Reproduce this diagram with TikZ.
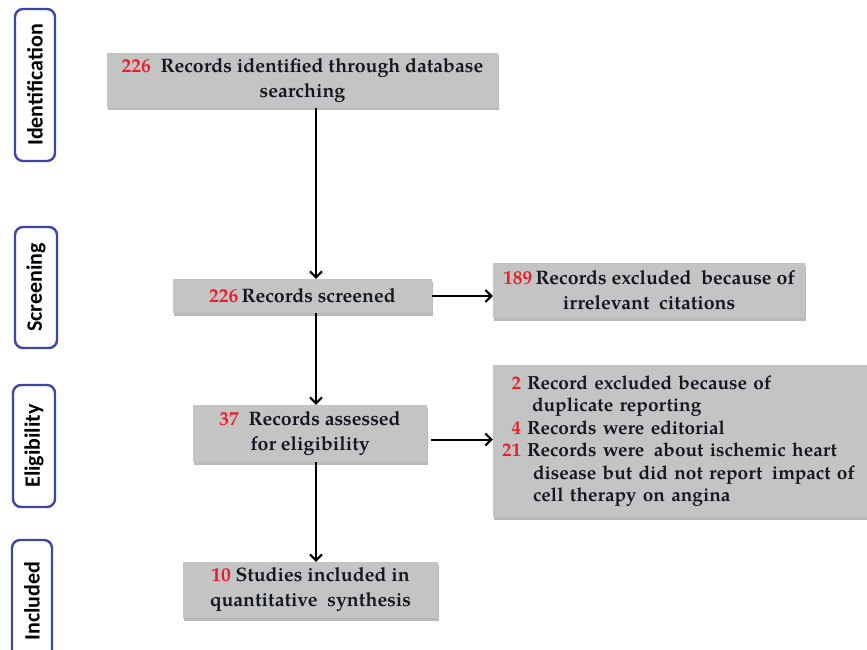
\documentclass[tikz,border=0pt]{standalone}
\usepackage{fontspec}
\setmainfont{texgyrepagella}[Extension=.otf, UprightFont=*-regular, BoldFont=*-bold, ItalicFont=*-italic, BoldItalicFont=*-bolditalic]
\newfontfamily\labfont{Carlito}[BoldFont={Carlito Bold}]
\usetikzlibrary{arrows.meta,shadows}
\definecolor{numred}{HTML}{E8202A}
\definecolor{boxgray}{HTML}{C4C4C4}
\definecolor{labblue}{HTML}{3C46A8}
\definecolor{txtcol}{HTML}{141820}
\newcommand{\R}[1]{\textcolor{numred}{#1}}
\begin{document}
\begin{tikzpicture}[x=1pt,y=-1pt,
  box/.style={fill=boxgray, drop shadow={shadow xshift=1pt,shadow yshift=-2.5pt,fill=black!55}, inner sep=0pt, align=center, font=\bfseries\fontsize{19.5}{25}\selectfont, text=txtcol},
  stage/.style={draw=labblue, line width=2.4pt, rounded corners=8pt, fill=white, inner sep=0pt, rotate=90, font=\labfont\bfseries\fontsize{22}{24}\selectfont, text=black},
  arr/.style={line width=2pt, -{Straight Barb[length=6pt,width=12pt]}}]
\useasboundingbox (0,0) rectangle (867,650);
% stage labels
\node[stage, minimum width=152pt, minimum height=40pt] (s1) at (35,85) {Identification};
\node[stage, minimum width=121pt, minimum height=42pt] (s2) at (36,287.5) {Screening};
\node[stage, minimum width=122pt, minimum height=42pt] (s3) at (34,446) {Eligibility};
\node[stage, minimum width=122pt, minimum height=40pt] (s4) at (32,601) {Included};
% boxes
\node[box, minimum width=391pt, minimum height=55pt] (b1) at (302.5,80.5)
  {\R{226}\ \ Records identified through database\\searching};
\node[box, minimum width=259pt, minimum height=34pt] (b2) at (302.5,296)
  {\R{226}\,Records screened};
\node[box, minimum width=312pt, minimum height=55pt] (b3) at (649,290.5)
  {\R{189}\,Records excluded\ \ because of\\irrelevant\ \ citations};
\node[box, minimum width=374pt, minimum height=152pt, text width=356pt, inner xsep=9pt, align=left, font=\bfseries\fontsize{19}{22.5}\selectfont] (b4) at (680,441)
  {\begin{tabular}{@{}r@{\hspace{6pt}}l@{}}
   \R{2} & Record excluded because of\\
         & \hspace{5pt}duplicate reporting\\
   \R{4} & Records were editorial\\
   \R{21} & Records were\ \,about ischemic heart\\
         & \hspace{6pt}disease but did not report\ \,impact of\\
         & \hspace{6pt}cell therapy on angina
   \end{tabular}};
\node[box, minimum width=234pt, minimum height=57pt] (b5) at (310,433.5)
  {\R{37}\ \ Records assessed\\for eligibility};
\node[box, minimum width=255pt, minimum height=56pt] (b6) at (310.5,590)
  {\R{10} Studies included in\\quantitative\ \ synthesis};
% arrows
\coordinate (ax) at (316,0);
\draw[arr] (b1.south -| ax) -- (b2.north -| ax);
\draw[arr] (b2.south -| ax) -- (b5.north -| ax);
\draw[arr] (b5.south -| ax) -- (b6.north -| ax);
\draw[arr] (b2.east) -- (b2.east -| b3.west);
\draw[arr] ([xshift=4pt,yshift=-6pt]b5.east) -- ([yshift=-6pt]b5.east -| b4.west);
\end{tikzpicture}
\end{document}
